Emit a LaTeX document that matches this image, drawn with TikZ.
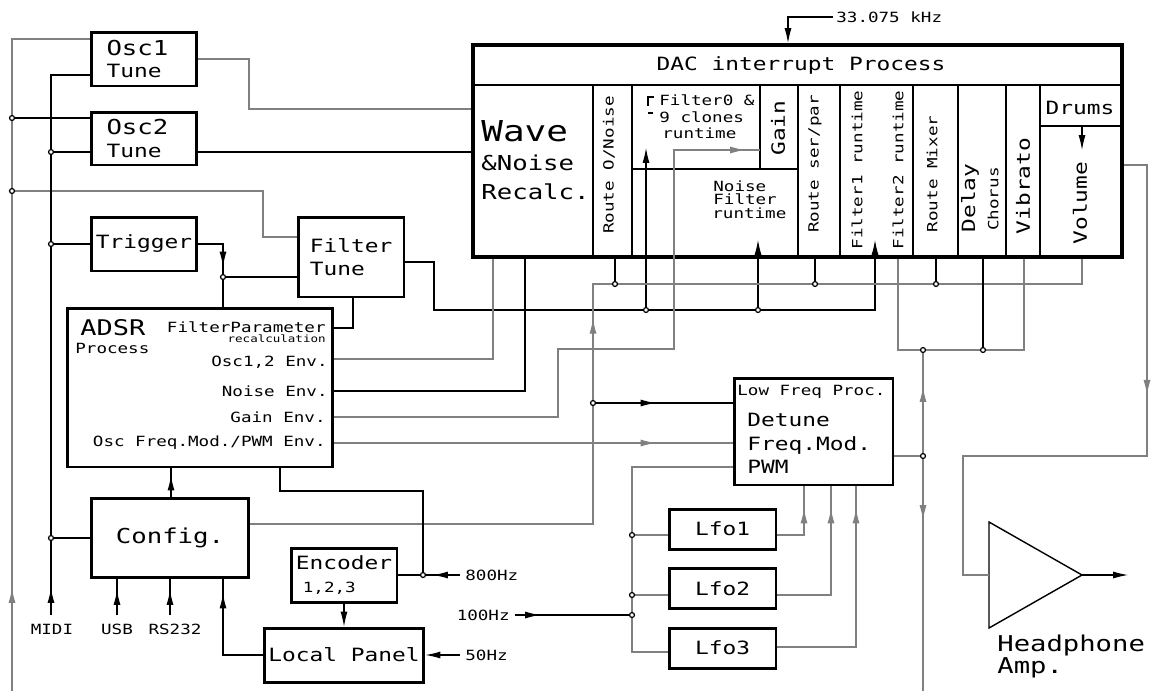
\documentclass[tikz,border=0pt]{standalone}
\usepackage{fontspec}
\usetikzlibrary{arrows.meta,decorations.markings}
\newfontfamily\cad[FakeStretch=1.25]{DejaVu Sans Mono}
\newcommand\ftiny{\cad\fontsize{5.7}{6.5}\selectfont}
\newcommand\fsm{\cad\fontsize{8}{9.5}\selectfont}
\newcommand\fmd{\cad\fontsize{10.4}{13}\selectfont}
\newcommand\flg{\cad\fontsize{11.7}{13}\selectfont}
\newcommand\fxl{\cad\fontsize{16.4}{18}\selectfont}
\definecolor{ink}{HTML}{000000}
\definecolor{wiregray}{HTML}{808080}
\tikzset{
  box/.style={draw=ink, line width=1.7pt, inner sep=0pt, align=center},
  divider/.style={draw=ink, line width=0.6pt},
  wire/.style={draw=ink, line width=0.6pt},
  gwire/.style={draw=wiregray, line width=0.6pt},
  arrow/.style={-{Latex[length=8.5pt,width=4pt]}},
  tipat/.style={postaction={decorate,decoration={markings,
      mark=at position #1 with {\arrow{Latex[length=8.5pt,width=4pt]}}}}},
  dot/.style={draw=ink, fill=white, line width=0.7pt},
  sm/.style={font=\fsm, inner sep=0pt},
  md/.style={font=\fmd, inner sep=0pt},
  lg/.style={font=\flg, inner sep=0pt}
}
\begin{document}
\begin{tikzpicture}[x=0.02cm,y=-0.02cm]
\useasboundingbox (0,0) rectangle (1152,691);
% blocks on the left
\node[box, font=\flg, minimum width=2.12cm, minimum height=1.08cm, text width=1.5cm, align=left] (osc1) at (144,59) {Osc1\\{\fmd Tune}};
\node[box, font=\flg, minimum width=2.12cm, minimum height=1.06cm, text width=1.5cm, align=left] (osc2) at (144,138.5) {Osc2\\{\fmd Tune}};
\node[box, font=\fmd, minimum width=2.12cm, minimum height=1.08cm] (trig) at (144,244) {Trigger};
\node[box, font=\fmd, minimum width=2.12cm, minimum height=1.6cm, align=left] (ftune) at (351,257) {Filter\\Tune};
\node[box, minimum width=5.32cm, minimum height=3.18cm] (adsr) at (200,387.5) {};
\node[box, font=\flg, minimum width=3.16cm, minimum height=1.58cm] (config) at (170,537.5) {Config.};
\node[box, font=\fmd, minimum width=2.12cm, minimum height=1.08cm, align=left] (enc) at (344,575) {Encoder\\{\fsm\hspace*{4pt}1,2,3}};
\node[box, font=\fmd, minimum width=3.2cm, minimum height=1.08cm] (panel) at (344,655) {Local Panel};
% ADSR texts
\node[font=\cad\fontsize{12.3}{14}\selectfont, inner sep=0pt, anchor=west] (adsrt) at (80,328) {ADSR};
\node[sm, anchor=west] (adsrp) at (75,348) {Process};
\node[sm, anchor=east] (fpar) at (326,327) {FilterParameter};
\node[font=\ftiny, inner sep=0pt, anchor=east] (frec) at (326,339) {recalculation};
\node[sm, anchor=east] (eosc) at (328,362) {Osc1,2 Env.};
\node[sm, anchor=east] (enoise) at (328,391) {Noise Env.};
\node[sm, anchor=east] (egain) at (326,417) {Gain Env.};
\node[sm, anchor=east] (efm) at (326,443) {Osc Freq.Mod./PWM Env.};
% low frequency part
\node[box, minimum width=3.18cm, minimum height=2.14cm] (lfp) at (813.5,431.5) {};
\node[sm, anchor=west] (lfpt) at (737,392) {Low Freq Proc.};
\node[md, anchor=west] (lfpa) at (747,420) {Detune};
\node[md, anchor=west] (lfpb) at (747,445) {Freq.Mod.};
\node[md, anchor=west] (lfpc) at (747,467) {PWM};
\foreach \n/\cy in {1/529,2/588.5,3/648}
  \node[box, font=\fmd, minimum width=2.14cm, minimum height=0.8cm] (lfo\n) at (722.5,\cy) {Lfo\n};
% DAC interrupt block
\node[box, line width=2.3pt, minimum width=12.98cm, minimum height=4.24cm] (dac) at (797.5,151) {};
\node[md] (dactitle) at (801,65) {DAC interrupt Process};
\draw[divider] (dac.west |- 0,85) -- (dac.east |- 0,85);
\foreach \cx in {593,632,798,840,913,958,1006,1040}
  \draw[divider] (\cx,85) -- (\cx,257);
\draw[divider] (632,169) -- (798,169);
\draw[divider] (760,85) -- (760,169);
\draw[divider] (1040,126) -- (1122,126);
\draw[divider] (654,97) -- (648,97) -- (648,106);
\draw[divider] (648,113) -- (653,113);
\node[font=\fxl, inner sep=0pt, anchor=west] (wave) at (481,131) {Wave};
\node[lg, anchor=west] (wnoise) at (481,163) {\&Noise};
\node[lg, anchor=west] (wrecalc) at (481,192) {Recalc.};
\node[sm, rotate=90] (rnoise) at (609,165) {Route O/Noise};
\node[sm, anchor=west] (f0a) at (659,100) {Filter0 \&};
\node[sm, anchor=west] (f0b) at (659,117) {9 clones};
\node[sm, anchor=west] (f0c) at (662,133) {runtime};
\node[md, rotate=90] (gain) at (778,128) {Gain};
\node[sm, anchor=west] (nfa) at (713,186) {Noise};
\node[sm, anchor=west] (nfb) at (713,199) {Filter};
\node[sm, anchor=west] (nfc) at (712,213) {runtime};
\node[sm, rotate=90] (rser) at (815,164) {Route ser/par};
\node[sm, rotate=90] (f1rt) at (857,170) {Filter1 runtime};
\node[sm, rotate=90] (f2rt) at (898,170) {Filter2 runtime};
\node[sm, rotate=90] (rmix) at (932,174) {Route Mixer};
\node[md, rotate=90] (delay) at (970,198) {Delay};
\node[sm, rotate=90] (chorus) at (993,199) {Chorus};
\node[md, rotate=90] (vib) at (1023,186) {Vibrato};
\node[md] (drums) at (1080,108) {Drums};
\node[md, rotate=90] (vol) at (1080,203) {Volume};
% headphone amp
\coordinate (ampin) at (989,575);
\coordinate (ampout) at (1082,575);
\draw[divider, line width=0.8pt] (989,522) -- (ampout) -- (989,628) -- cycle;
\node[font=\cad\fontsize{12.4}{14}\selectfont, inner sep=0pt, anchor=west] (hp) at (997,645) {Headphone};
\node[font=\cad\fontsize{12.4}{14}\selectfont, inner sep=0pt, anchor=west] (hpamp) at (997,668) {Amp.};
% outside labels
\node[sm] (midi) at (52,629) {MIDI};
\node[sm] (usb) at (117,629) {USB};
\node[sm] (rs) at (175,629) {RS232};
\node[sm, anchor=west] (l800) at (465,575) {800Hz};
\node[sm, anchor=east] (l100) at (510,615) {100Hz};
\node[sm, anchor=west] (l50) at (465,655) {50Hz};
\node[sm, anchor=west] (lclk) at (836,17) {33.075 kHz};
% free ends and junctions
\coordinate (inL) at (12,691);
\coordinate (inM) at (51,615);
\coordinate (inU) at (117,615);
\coordinate (inR) at (170,615);
\coordinate (in800) at (460,575);
\coordinate (in100) at (515,615);
\coordinate (in50) at (460,655);
\coordinate (inclk) at (833,17);
\coordinate (outLf) at (923,691);
\coordinate (hpout) at (1128,575);
\coordinate (jA) at (12,118);
\coordinate (jB) at (12,191);
\coordinate (jC) at (51,152);
\coordinate (jD) at (51,244);
\coordinate (jE) at (51,538);
\coordinate (jT) at (223,277);
\coordinate (jEnc) at (423,575);
\coordinate (jCfg) at (593,403);
\coordinate (b1) at (615,284);
\coordinate (b2) at (815,284);
\coordinate (b3) at (936,284);
\coordinate (f1) at (646,310);
\coordinate (f2) at (758,310);
\coordinate (m1) at (923,350);
\coordinate (m2) at (983,350);
\coordinate (jLf) at (923,456);
\coordinate (l1) at (632,535);
\coordinate (l2) at (632,595);
\coordinate (l3) at (632,615);
% inputs on the left
\draw[gwire, tipat=2.06cm] (inL) |- (osc1.west |- 0,39);
\draw[wire] (jA) -- (jA -| osc2.west);
\draw[gwire] (jB) -| (263,237) -- (ftune.west |- 0,237);
\draw[wire, tipat=0.54cm] (inM) |- (osc1.west |- 0,75);
\draw[wire] (jC) -- (jC -| osc2.west);
\draw[wire] (jD) -- (jD -| trig.west);
\draw[wire] (jE) -- (jE -| config.west);
\draw[wire, tipat=0.5cm] (inU) -- (inU |- config.south);
\draw[wire, tipat=0.5cm] (inR) -- (inR |- config.south);
% oscillators into the DAC block
\draw[gwire] (osc1.east) -| (249,109) -- (dac.west |- 0,109);
\draw[wire] (osc2.east |- 0,152) -- (dac.west |- 0,152);
% trigger and filter tune
\draw[wire, tipat=0.94cm] (trig.east) -| (jT);
\draw[wire] (jT) -- (jT -| ftune.west);
\draw[wire] (jT) -- (jT |- adsr.north);
\draw[wire] (ftune.south -| 353,0) |- (adsr.east |- 0,328);
\draw[wire, arrow] (ftune.east |- 0,262) -| (434,310) -| (875,240);
\draw[wire, arrow] (f1) -- (646,148);
\draw[wire, arrow] (f2) -- (758,240);
% envelopes
\draw[gwire] (adsr.east |- 0,359) -| (dac.south -| 493,0);
\draw[wire] (adsr.east |- 0,391) -| (dac.south -| 525,0);
\draw[gwire, tipat=-0.3cm] (adsr.east |- 0,417) -| (558,349) -| (674,150) -- (760,150);
\draw[gwire, tipat=-1.54cm] (adsr.east |- 0,443) -- (lfp.west |- 0,443);
% config settings
\draw[gwire, tipat=10.96cm] (config.east |- 0,524) -| (593,284) -| (dac.south -| 1082,0);
\draw[wire, tipat=-1.54cm] (jCfg) -- (jCfg -| lfp.west);
\foreach \b in {b1,b2,b3}
  \draw[wire] (\b) -- (\b |- dac.south);
\draw[wire, tipat=0.42cm] (config.north -| 171,0) -- (adsr.south -| 171,0);
% encoder and panel
\draw[wire] (adsr.south -| 280,0) -- (280,491) -| (jEnc);
\draw[wire, tipat=0.54cm] (in800) -- (enc.east);
\draw[wire, arrow] (enc.south) -- (panel.north);
\draw[wire, arrow] (in50) -- (panel.east);
\draw[wire, tipat=2.02cm] (panel.west) -| (config.south -| 223,0);
% lfos
\draw[wire, tipat=0.5cm] (in100) -- (l3);
\draw[gwire] (lfp.west |- 0,467) -| (632,652) -- (lfo3.west |- 0,652);
\draw[gwire] (l1) -- (l1 -| lfo1.west);
\draw[gwire] (l2) -- (l2 -| lfo2.west);
\draw[gwire, tipat=-0.44cm] (lfo1.east |- 0,535) -| (lfp.south -| 804,0);
\draw[gwire, tipat=-0.44cm] (lfo2.east |- 0,595) -| (lfp.south -| 831,0);
\draw[gwire, tipat=-0.44cm] (lfo3.east |- 0,647) -| (lfp.south -| 856,0);
% lfo out, filter2 / delay / vibrato
\draw[gwire] (lfp.east |- jLf) -- (jLf);
\draw[gwire, tipat=1.38cm] (jLf) -- (m1);
\draw[gwire, tipat=1.28cm] (jLf) -- (outLf);
\draw[gwire] (dac.south -| 898,0) |- (m1) -- (m2) -| (dac.south -| 1024,0);
\draw[wire] (m2) -- (m2 |- dac.south);
% volume to headphone amp
\draw[gwire, tipat=5.06cm] (dac.east |- 0,165) -| (1147,456) -| (963,575) -- (ampin);
\draw[wire, arrow] (ampout) -- (hpout);
% clock and drums
\draw[wire, arrow] (inclk) -| (dac.north -| 788,0);
\draw[wire, arrow] (1082,126) -- (1082,150);
% junction dots
\foreach \p in {jA,jB,jC,jD,jE,jT,jEnc,jCfg,b1,b2,b3,f1,f2,m1,m2,jLf,l1,l2,l3}
  \draw[dot] (\p) circle[radius=1.4pt];
\end{tikzpicture}
\end{document}
